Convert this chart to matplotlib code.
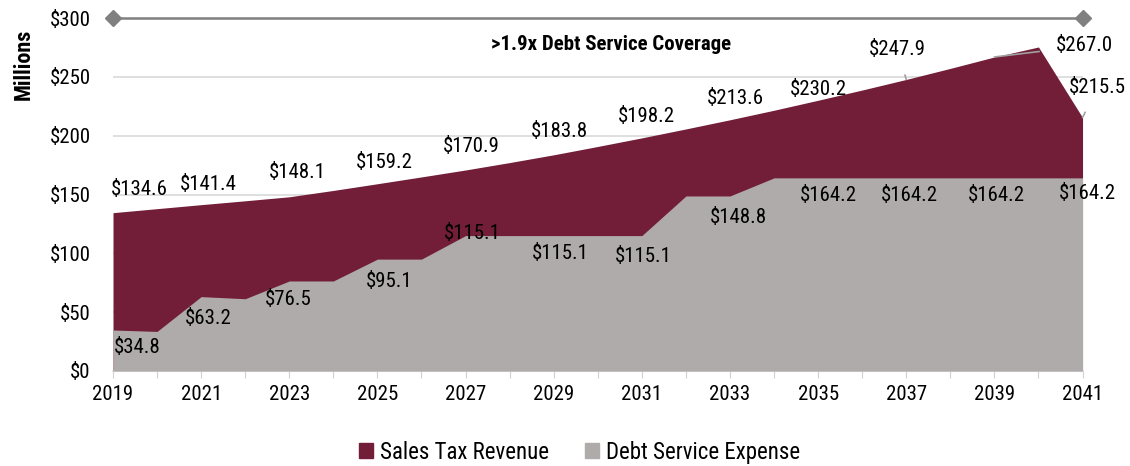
import matplotlib
matplotlib.use("Agg")
import matplotlib.pyplot as plt
from matplotlib.patches import Patch
from matplotlib import font_manager

names = {f.name for f in font_manager.fontManager.ttflist}
NARROW = next((n for n in ['Liberation Sans Narrow', 'Arial Narrow', 'Roboto Condensed',
                           'Archivo Narrow', 'PT Sans Narrow', 'Liberation Sans'] if n in names),
              'DejaVu Sans')
plt.rcParams['font.family'] = [NARROW, 'DejaVu Sans']

years = list(range(2019, 2042))
sales_tax_revenue = [134.6, 138.0, 141.4, 144.7, 148.1, 153.5, 159.2, 165.0, 170.9, 177.2,
                     183.8, 190.9, 198.2, 205.8, 213.6, 221.7, 230.2, 238.9, 247.9, 257.3,
                     267.0, 275.5, 215.5]
debt_service_expense = [34.8, 33.6, 63.2, 61.4, 76.5, 76.5, 95.1, 95.1, 115.1, 115.1,
                        115.1, 115.1, 115.1, 148.8, 148.8, 164.2, 164.2, 164.2, 164.2, 164.2,
                        164.2, 164.2, 164.2]
coverage_years = [2019, 2041]
coverage_level = [300, 300]
coverage_text = ">1.9x Debt Service Coverage"

rev_label_years = [2019, 2021, 2023, 2025, 2027, 2029, 2031, 2033, 2035, 2037, 2039, 2041]
debt_label_years = [2019, 2021, 2023, 2025, 2027, 2029, 2031, 2033, 2035, 2037, 2039, 2041]

MAROON = '#721E39'
GRAY = '#AFABAA'
FS = 15

fig = plt.figure(figsize=(11.3, 4.66), dpi=100)
ax = fig.add_axes([0.1, 0.204, 0.858, 0.757])

ax.fill_between(years, 0, sales_tax_revenue, color=MAROON, linewidth=0, zorder=2)
ax.fill_between(years, 0, debt_service_expense, color=GRAY, linewidth=0, zorder=3)
ax.plot(coverage_years, coverage_level, color='#808080', lw=1.8, marker='D', ms=8,
        clip_on=False, zorder=5)
ax.text(0.5 * (coverage_years[0] + coverage_years[1]) + 0.3, 277.5, coverage_text,
        ha='center', va='center', fontsize=15, fontweight='bold')

ax.set_xlim(years[0], years[-1])
ax.set_ylim(0, 300)
ax.set_yticks(range(0, 301, 50))
ax.set_yticklabels([f"${v}" for v in range(0, 301, 50)], fontsize=FS)
ax.set_xticks(years)
ax.set_xticklabels([str(y) if (y - years[0]) % 2 == 0 else '' for y in years], fontsize=FS)
ax.tick_params(axis='y', length=0, pad=16)
ax.tick_params(axis='x', length=5, color='#d0d0d0', pad=5, direction='out')
for s in ['top', 'right', 'left']:
    ax.spines[s].set_visible(False)
ax.spines['bottom'].set_color('#d9d9d9')
ax.spines['bottom'].set_linewidth(1.2)
ax.grid(axis='y', color='#d9d9d9', lw=1.2, zorder=0)
ax.set_axisbelow(True)

rev_offsets = {2019: (26, 23), 2021: (7, 20), 2023: (8, 24), 2025: (7, 21), 2027: (6, 23),
               2029: (6, 23), 2031: (5, 21), 2033: (5, 21), 2035: (0, 11),
               2037: (-9, 30), 2039: (90, 11), 2041: (15, 30)}
leader = {2037, 2039, 2041}
for y in rev_label_years:
    v = sales_tax_revenue[years.index(y)]
    dx, dy = rev_offsets[y]
    kw = {}
    if y in leader:
        kw['arrowprops'] = dict(arrowstyle='-', color='#a0a0a0', lw=1.2, shrinkA=10, shrinkB=0)
    ax.annotate(f"${v:.1f}", (y, v), xytext=(dx, dy), textcoords='offset pixels',
                ha='center', va='center', fontsize=FS, zorder=6, annotation_clip=False, **kw)

debt_offsets = {2019: (24, -17), 2021: (7, -22), 2023: (-1, -19), 2025: (12, -22),
                2027: (7, 2), 2029: (7, -18), 2031: (1, -21), 2033: (8, -22),
                2035: (10, -18), 2037: (3, -18), 2039: (2, -18), 2041: (5, -16)}
for y in debt_label_years:
    v = debt_service_expense[years.index(y)]
    dx, dy = debt_offsets[y]
    ax.annotate(f"${v:.1f}", (y, v), xytext=(dx, dy), textcoords='offset pixels',
                ha='center', va='center', fontsize=FS, zorder=6, annotation_clip=False)

fig.text(0.021, 0.862, 'Millions', rotation=90, ha='center', va='center',
         fontsize=16, fontweight='bold')

handles = [Patch(color=MAROON, label='Sales Tax Revenue'),
           Patch(color=GRAY, label='Debt Service Expense')]
fig.legend(handles=handles, loc='center', bbox_to_anchor=(0.513, 0.03), ncol=2,
           frameon=False, fontsize=16.5, handlelength=0.6, handleheight=0.6,
           handletextpad=0.3, columnspacing=1.6)

fig.savefig('out.png', dpi=100)
